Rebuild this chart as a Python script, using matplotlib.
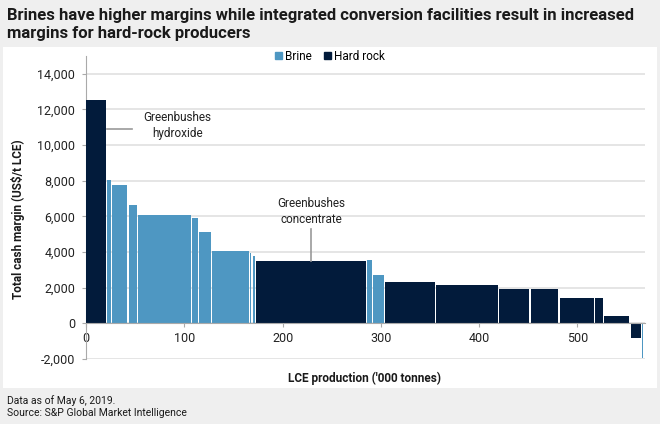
import matplotlib.pyplot as plt
import numpy as np
from matplotlib.patches import Patch, Rectangle

# LCE production per operation ('000 t), total cash margin (US$/t LCE), deposit type
widths = [21, 5, 17, 10, 54.5, 7.5, 13, 38.5, 3, 3.5, 113, 6, 12, 52.5, 64, 32,
          29.5, 36.5, 9, 27, 11.5, 1.2]
margins = [12550, 8050, 7750, 6650, 6100, 5900, 5150, 4050, 3950, 3800, 3500,
           3550, 2700, 2300, 2150, 1900, 1900, 1450, 1450, 400, -800, -1950]
types = ["Hard rock", "Brine", "Brine", "Brine", "Brine", "Brine", "Brine",
         "Brine", "Brine", "Brine", "Hard rock", "Brine", "Brine", "Hard rock",
         "Hard rock", "Hard rock", "Hard rock", "Hard rock", "Hard rock",
         "Hard rock", "Hard rock", "Brine"]
yticks = list(range(-2000, 14001, 2000))
xticks = [0, 100, 200, 300, 400, 500]

title_lines = ["Brines have higher margins while integrated conversion facilities result in increased",
               "margins for hard-rock producers"]
footer_lines = ["Data as of May 6, 2019.", "Source: S&P Global Market Intelligence"]

colors = {"Brine": "#4e97c2", "Hard rock": "#021b3b"}
plt.rcParams["font.family"] = ["Roboto", "DejaVu Sans"]

fig = plt.figure(figsize=(6.6, 4.24), dpi=100)
fig.patch.set_facecolor("#efefef")
fig.patches.append(Rectangle((3 / 660, 1 - 388 / 424), 654 / 660, 341 / 424,
                             transform=fig.transFigure, facecolor="white",
                             edgecolor="none", zorder=-5))

ax = fig.add_axes([86.3 / 660, 1 - 359 / 424, 558.7 / 660, 303 / 424])
ax.set_facecolor("none")
ax.set_zorder(1)

w = np.array(widths)
lefts = np.concatenate([[0], np.cumsum(w)[:-1]])
gap = 1.3
ax.bar(lefts, margins, width=np.maximum(w - gap, 0.9), align="edge",
       color=[colors[t] for t in types], linewidth=0, zorder=3)

ax.set_xlim(0, 569)
ax.set_ylim(-2000, 15000)
ax.set_yticks(yticks)
ax.set_yticklabels([f"{v:,}" for v in yticks])
ax.set_xticks(xticks)
ax.grid(axis="y", color="#e3e3e3", linewidth=1.3, zorder=0)
ax.tick_params(axis="both", colors="#aaaaaa", labelcolor="#222222",
               labelsize=9, length=3, width=0.8)
ax.tick_params(axis="y", pad=5)
for s in ["top", "right"]:
    ax.spines[s].set_visible(False)
ax.spines["bottom"].set_position(("data", 0))
ax.spines["bottom"].set_color("#aaaaaa")
ax.spines["left"].set_color("#aaaaaa")
ax.spines["bottom"].set_zorder(4)

# annotations
ax.plot([20.8, 46.3], [10900, 10900], color="#999999", linewidth=1.2, zorder=4)
ax.text(92.5, 11080, "Greenbushes\nhydroxide", ha="center", va="center",
        fontsize=8.5, color="#222222", linespacing=1.3)
ax.plot([228.9, 228.9], [5280, 3500], color="#999999", linewidth=1.2, zorder=4)
ax.text(228.9, 6260, "Greenbushes\nconcentrate", ha="center", va="center",
        fontsize=8.5, color="#222222", linespacing=1.3)

handles = [Patch(color=colors["Brine"], label="Brine"),
           Patch(color=colors["Hard rock"], label="Hard rock")]
fig.legend(handles=handles, loc="center", bbox_to_anchor=(330 / 660, 1 - 56 / 424),
           ncol=2, frameon=False, fontsize=8.5, handlelength=0.6,
           handleheight=0.6, handletextpad=0.3, columnspacing=1.0)

for i, line in enumerate(title_lines):
    fig.text(7 / 660, 1 - (20 + 17.7 * i) / 424, line, ha="left", va="baseline",
             fontsize=12, fontweight="bold", color="#1a1a1a")
fig.text(18 / 660, 1 - 219 / 424, "Total cash margin (US$/t LCE)", rotation=90,
         ha="center", va="center", fontsize=8.5, fontweight="bold", color="#1a1a1a")
fig.text(365 / 660, 1 - 378 / 424, "LCE production ('000 tonnes)", ha="center",
         va="center", fontsize=8.5, fontweight="bold", color="#1a1a1a")
for i, line in enumerate(footer_lines):
    fig.text(7 / 660, 1 - (404 + 11.7 * i) / 424, line, ha="left", va="baseline",
             fontsize=7.5, color="#1a1a1a")

fig.savefig("out.png", dpi=100, facecolor=fig.get_facecolor())
